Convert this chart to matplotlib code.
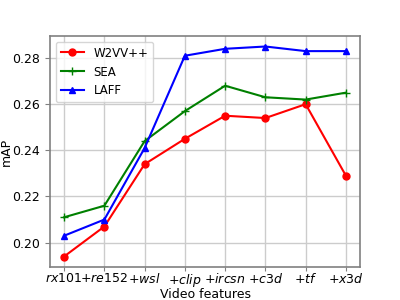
import matplotlib
matplotlib.use('Agg')
import matplotlib.pyplot as plt

features = ['$rx$101', '$+re$152', '$+wsl$', '$+clip$', '$+ircsn$', '$+c3d$', '$+tf$', '$+x3d$']
w2vv = [0.194, 0.207, 0.234, 0.245, 0.255, 0.254, 0.260, 0.229]
sea = [0.211, 0.216, 0.244, 0.257, 0.268, 0.263, 0.262, 0.265]
laff = [0.203, 0.210, 0.241, 0.281, 0.284, 0.285, 0.283, 0.283]

plt.rcParams['font.size'] = 9

fig, ax = plt.subplots(figsize=(4, 3), dpi=100)
x = range(len(features))
ax.plot(x, w2vv, color='red', marker='o', markersize=5, label='W2VV++')
ax.plot(x, sea, color='green', marker='+', markersize=6, label='SEA')
ax.plot(x, laff, color='blue', marker='^', markersize=5, label='LAFF')

ax.set_xticks(list(x))
ax.set_xticklabels(features)
ax.set_xlabel('Video features')
ax.set_ylabel('mAP')
ax.xaxis.set_label_coords(0.5, -0.09)
ax.yaxis.set_label_coords(-0.12, 0.5)
ax.grid(True, color='#cccccc', linewidth=1)
ax.set_axisbelow(True)
for s in ax.spines.values():
    s.set_color('#808080')
    s.set_linewidth(1.2)
ax.tick_params(color='#808080')
ax.tick_params(axis='x', length=3, pad=0.5)
ax.legend(loc='upper left', fontsize=8.5)

fig.subplots_adjust(left=0.125, right=0.9, top=0.88, bottom=0.11)
fig.savefig('out.png')
